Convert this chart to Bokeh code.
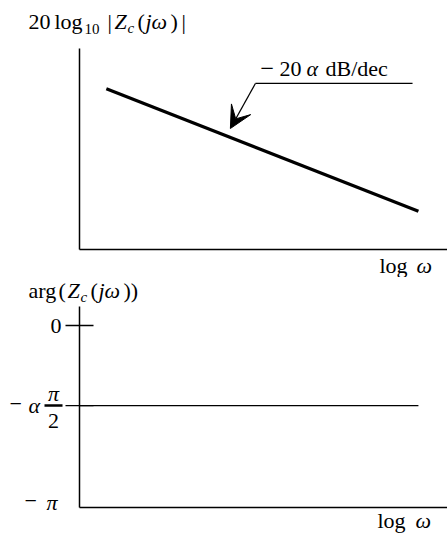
import math

from bokeh.embed import file_html
from bokeh.layouts import column
from bokeh.models import Arrow, Label, Range1d, VeeHead
from bokeh.plotting import figure
from bokeh.resources import INLINE

# ---- data -------------------------------------------------------------
# magnitude asymptote (log omega, dB in arbitrary units)
mag_log_w = [0.73, 9.21]
mag_db = [8.0, 1.9]

# constant-phase element: phase = -alpha * pi / 2
alpha = 0.88
phase_level = -alpha * math.pi / 2
phase_log_w = [0.0, 9.21]
phase_val = [phase_level, phase_level]
phase_ticks = [0.0, phase_level]

# axis extents (log omega from 0 to 10; magnitude 0..10; phase -pi..0.33)
axis_log_w = [0.0, 10.0]
mag_axis = [0.0, 10.0]
phase_axis = [-math.pi, 0.328]

# slope callout: tip near the line, elbow, end of leader
callout_log_w = [4.10, 4.78, 9.05]
callout_db = [6.02, 8.26, 8.26]

SERIF = "Liberation Serif"
FS = "22px"
FS_SUB = "15px"

# where each panel's axes sit on its own canvas (pixels)
TOP = dict(w=447, h=277, left=79, right=447, top=48, bottom=249,
           x=axis_log_w, y=mag_axis, off=0)
BOT = dict(w=447, h=256, left=79, right=447, top=306, bottom=507,
           x=axis_log_w, y=phase_axis, off=277)


def at(g, px, py):
    """Canvas pixel position -> data coordinates of panel g."""
    x0, x1 = g["x"]
    y0, y1 = g["y"]
    x = x0 + (px - g["left"]) * (x1 - x0) / (g["right"] - g["left"])
    y = y0 + (g["bottom"] - py) * (y1 - y0) / (g["bottom"] - g["top"])
    return x, y


def make_panel(g):
    xa, ya = at(g, 0, g["off"] + g["h"])
    xb, yb = at(g, g["w"], g["off"])
    p = figure(
        width=g["w"], height=g["h"],
        x_range=Range1d(xa, xb), y_range=Range1d(ya, yb),
        x_axis_type=None, y_axis_type=None,
        output_backend="svg", toolbar_location=None,
        min_border=0,
    )
    p.outline_line_color = None
    p.grid.visible = False
    p.background_fill_color = "white"
    p.border_fill_color = "white"
    # axis lines along the data limits
    x0, x1 = g["x"]
    y0, y1 = g["y"]
    p.segment(x0=[x0, x0], y0=[y0, y0], x1=[x1, x0], y1=[y0, y1],
              line_color="black", line_width=1.5)
    return p


def put(p, g, text, px, py, size=FS, italic=False, align="left", font=SERIF):
    """Text piece whose left edge / vertical middle sit at (px, py)."""
    x, y = at(g, px, py)
    p.add_layout(Label(
        x=x, y=y, text=text, text_font=font, text_font_size=size,
        text_font_style="italic" if italic else "normal",
        text_color="black", text_align=align, text_baseline="middle",
    ))


# ---- magnitude panel --------------------------------------------------
top = make_panel(TOP)
top.line(mag_log_w, mag_db, line_color="black", line_width=3.2)

# leader line and arrow of the slope callout
top.line(callout_log_w[1:], callout_db[1:], line_color="black", line_width=1.3)
top.add_layout(Arrow(
    end=VeeHead(size=22, fill_color="black", line_color="black", line_width=1),
    x_start=callout_log_w[1], y_start=callout_db[1],
    x_end=callout_log_w[0], y_end=callout_db[0],
    line_color="black", line_width=1.3))

put(top, TOP, "\u2212", 259, 66, size="18px", font="DejaVu Serif")
put(top, TOP, "20", 279, 68)
put(top, TOP, "\u03b1", 306, 68, italic=True)
put(top, TOP, "dB/dec", 325, 68)

# y label: 20 log10 |Zc(jw)|
put(top, TOP, "20", 28, 21)
put(top, TOP, "log", 54, 21)
put(top, TOP, "10", 84, 28, size=FS_SUB)
put(top, TOP, "|", 107, 21)
put(top, TOP, "Z", 114, 21, italic=True)
put(top, TOP, "c", 127, 27, size=FS_SUB, italic=True)
put(top, TOP, "(", 137, 21)
put(top, TOP, "j\u03c9", 145, 21, italic=True)
put(top, TOP, ")", 170, 21)
put(top, TOP, "|", 181, 21)

# x label
put(top, TOP, "log", 379, 265)
put(top, TOP, "\u03c9", 416, 265, italic=True)

# ---- phase panel ------------------------------------------------------
bot = make_panel(BOT)
bot.line(phase_log_w, phase_val, line_color="black", line_width=1.3)

# tick marks crossing the phase axis
tick_out = at(BOT, 79 - 14, 0)[0]
tick_in = at(BOT, 79 + 14, 0)[0]
bot.segment(x0=[tick_out] * len(phase_ticks), y0=phase_ticks,
            x1=[tick_in] * len(phase_ticks), y1=phase_ticks,
            line_color="black", line_width=1.3)

# y label: arg(Zc(jw))
put(bot, BOT, "arg", 28, 290)
put(bot, BOT, "(", 58, 290)
put(bot, BOT, "Z", 67, 290, italic=True)
put(bot, BOT, "c", 80, 296, size=FS_SUB, italic=True)
put(bot, BOT, "(", 90, 290)
put(bot, BOT, "j\u03c9", 98, 290, italic=True)
put(bot, BOT, "))", 123, 290)

# tick labels 0, -alpha pi/2, -pi
put(bot, BOT, "0", 61, 325, align="right")
put(bot, BOT, "\u2212", 9, 403)
put(bot, BOT, "\u03b1", 28, 405, italic=True)
put(bot, BOT, "\u03c0", 53, 393, italic=True, align="center")
bar_a = at(BOT, 44, 405)
bar_b = at(BOT, 62, 405)
bot.line([bar_a[0], bar_b[0]], [bar_a[1], bar_b[1]], line_color="black", line_width=2.6)
put(bot, BOT, "2", 53, 420, align="center")
put(bot, BOT, "\u2212", 24, 500)
put(bot, BOT, "\u03c0", 46, 502, italic=True)

# x label
put(bot, BOT, "log", 377, 520)
put(bot, BOT, "\u03c9", 415, 520, italic=True)

layout = column(top, bot, spacing=0)
open("out.html", "w").write(file_html(layout, INLINE))
